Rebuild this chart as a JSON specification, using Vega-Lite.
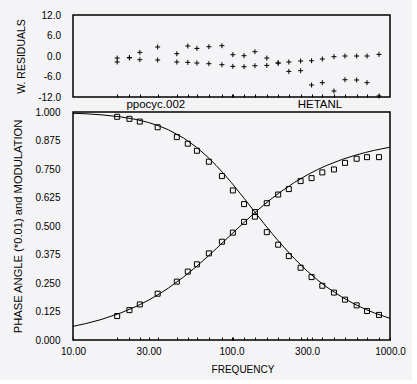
{
  "$schema": "https://vega.github.io/schema/vega-lite/v6.json",
  "background": "#f4f4f6",
  "padding": {"left": 12, "top": 9, "right": 5, "bottom": 5},
  "spacing": 15,
  "bounds": "flush",
  "config": {
    "view": {"stroke": "black", "strokeWidth": 1.5},
    "font": "Liberation Sans",
    "axis": {
      "labelFont": "Liberation Sans", "labelFontSize": 10, "labelColor": "black",
      "titleFont": "Liberation Sans", "titleColor": "black", "titleFontWeight": "normal",
      "tickColor": "black", "domain": false, "grid": false, "labelFlush": false, "labelOverlap": false
    }
  },
  "datasets": {
    "res": [
      {"freq": 19.0, "series": "phase", "res": -0.59}, {"freq": 19.0, "series": "mod", "res": -1.76},
      {"freq": 22.7, "series": "phase", "res": -0.5}, {"freq": 22.7, "series": "mod", "res": -0.5},
      {"freq": 26.4, "series": "phase", "res": 1.05}, {"freq": 26.4, "series": "mod", "res": -1.08},
      {"freq": 34.2, "series": "phase", "res": 2.63}, {"freq": 34.2, "series": "mod", "res": -1.17},
      {"freq": 45.2, "series": "phase", "res": 0.67}, {"freq": 45.2, "series": "mod", "res": -1.76},
      {"freq": 53.0, "series": "phase", "res": 2.93}, {"freq": 53.0, "series": "mod", "res": -1.87},
      {"freq": 60.5, "series": "phase", "res": 2.22}, {"freq": 60.5, "series": "mod", "res": -2.05},
      {"freq": 72.0, "series": "phase", "res": 2.72}, {"freq": 72.0, "series": "mod", "res": -2.25},
      {"freq": 87.0, "series": "phase", "res": 3.01}, {"freq": 87.0, "series": "mod", "res": -2.55},
      {"freq": 102, "series": "phase", "res": 0.38}, {"freq": 102, "series": "mod", "res": -3.04},
      {"freq": 120, "series": "phase", "res": 0.09}, {"freq": 120, "series": "mod", "res": -3.13},
      {"freq": 140.5, "series": "phase", "res": 1.26}, {"freq": 140.5, "series": "mod", "res": -2.84},
      {"freq": 167, "series": "phase", "res": -0.59}, {"freq": 167, "series": "mod", "res": -2.75},
      {"freq": 197, "series": "phase", "res": -2.05}, {"freq": 197, "series": "mod", "res": -2.05},
      {"freq": 230, "series": "phase", "res": -1.76}, {"freq": 230, "series": "mod", "res": -4.51},
      {"freq": 273, "series": "phase", "res": -1.46}, {"freq": 273, "series": "mod", "res": -4.3},
      {"freq": 320, "series": "phase", "res": -1.38}, {"freq": 320, "series": "mod", "res": -8.49},
      {"freq": 374, "series": "phase", "res": -0.88}, {"freq": 374, "series": "mod", "res": -7.81},
      {"freq": 443, "series": "phase", "res": -0.2}, {"freq": 443, "series": "mod", "res": -10.24},
      {"freq": 520, "series": "phase", "res": 0.0}, {"freq": 520, "series": "mod", "res": -6.94},
      {"freq": 616, "series": "phase", "res": 0.0}, {"freq": 616, "series": "mod", "res": -7.02},
      {"freq": 716, "series": "phase", "res": 0.0}, {"freq": 716, "series": "mod", "res": -7.81},
      {"freq": 852, "series": "phase", "res": 0.47}, {"freq": 852, "series": "mod", "res": -11.7}
    ],
    "pts": [
      {"freq": 19.0, "mod": 0.979, "phase": 0.105},
      {"freq": 22.7, "mod": 0.970, "phase": 0.131},
      {"freq": 26.4, "mod": 0.958, "phase": 0.156},
      {"freq": 34.2, "mod": 0.933, "phase": 0.203},
      {"freq": 45.2, "mod": 0.890, "phase": 0.256},
      {"freq": 53.0, "mod": 0.861, "phase": 0.300},
      {"freq": 60.5, "mod": 0.830, "phase": 0.332},
      {"freq": 72.0, "mod": 0.782, "phase": 0.380},
      {"freq": 87.0, "mod": 0.719, "phase": 0.431},
      {"freq": 102, "mod": 0.656, "phase": 0.471},
      {"freq": 120, "mod": 0.596, "phase": 0.518},
      {"freq": 140.5, "mod": 0.541, "phase": 0.561},
      {"freq": 167, "mod": 0.473, "phase": 0.600},
      {"freq": 197, "mod": 0.418, "phase": 0.638},
      {"freq": 230, "mod": 0.368, "phase": 0.662},
      {"freq": 273, "mod": 0.317, "phase": 0.697},
      {"freq": 320, "mod": 0.276, "phase": 0.710},
      {"freq": 374, "mod": 0.238, "phase": 0.735},
      {"freq": 443, "mod": 0.208, "phase": 0.748},
      {"freq": 520, "mod": 0.177, "phase": 0.777},
      {"freq": 616, "mod": 0.152, "phase": 0.795},
      {"freq": 716, "mod": 0.127, "phase": 0.802},
      {"freq": 852, "mod": 0.110, "phase": 0.802}
    ],
    "fit": [
      {"freq": 10, "mod": 0.9945, "phase": 0.0599},
      {"freq": 12, "mod": 0.9922, "phase": 0.0718},
      {"freq": 15, "mod": 0.9878, "phase": 0.0895},
      {"freq": 20, "mod": 0.9786, "phase": 0.1186},
      {"freq": 25, "mod": 0.9673, "phase": 0.1471},
      {"freq": 30, "mod": 0.9538, "phase": 0.1748},
      {"freq": 35, "mod": 0.9386, "phase": 0.2018},
      {"freq": 40, "mod": 0.9220, "phase": 0.2278},
      {"freq": 50, "mod": 0.8854, "phase": 0.2770},
      {"freq": 60, "mod": 0.8461, "phase": 0.3221},
      {"freq": 70, "mod": 0.8057, "phase": 0.3632},
      {"freq": 80, "mod": 0.7657, "phase": 0.4003},
      {"freq": 90, "mod": 0.7268, "phase": 0.4338},
      {"freq": 100, "mod": 0.6897, "phase": 0.4640},
      {"freq": 120, "mod": 0.6217, "phase": 0.5156},
      {"freq": 140, "mod": 0.5625, "phase": 0.5578},
      {"freq": 160, "mod": 0.5115, "phase": 0.5924},
      {"freq": 180, "mod": 0.4677, "phase": 0.6212},
      {"freq": 200, "mod": 0.4300, "phase": 0.6454},
      {"freq": 250, "mod": 0.3560, "phase": 0.6915},
      {"freq": 300, "mod": 0.3026, "phase": 0.7239},
      {"freq": 350, "mod": 0.2626, "phase": 0.7478},
      {"freq": 400, "mod": 0.2316, "phase": 0.7661},
      {"freq": 500, "mod": 0.1871, "phase": 0.7922},
      {"freq": 600, "mod": 0.1568, "phase": 0.8098},
      {"freq": 700, "mod": 0.1348, "phase": 0.8225},
      {"freq": 800, "mod": 0.1182, "phase": 0.8321},
      {"freq": 1000, "mod": 0.0948, "phase": 0.8456}
    ],
    "labels": [
      {"freq": 33.3, "v": 1.0, "label": "ppocyc.002"},
      {"freq": 361.5, "v": 1.0, "label": "HETANL"}
    ]
  },
  "vconcat": [
    {
      "width": 317,
      "height": 82,
      "data": {"name": "res"},
      "mark": {"type": "point", "shape": "M-1,0H1M0,-1V1", "size": 25, "filled": false, "stroke": "black", "strokeWidth": 1, "opacity": 1},
      "encoding": {
        "x": {"field": "freq", "type": "quantitative",
          "scale": {"type": "log", "domain": [10, 1000], "nice": false},
          "axis": {"title": null, "labels": false, "tickSize": -3,
            "values": [19.0, 22.7, 26.4, 34.2, 45.2, 53.0, 60.5, 72.0, 87.0, 100, 102, 120, 140.5, 167, 197, 230, 273, 320, 374, 443, 520, 616, 716, 852]}},
        "y": {"field": "res", "type": "quantitative",
          "scale": {"domain": [-12, 12], "nice": false, "zero": false},
          "axis": {"title": "W. RESIDUALS", "titleFontSize": 10.5, "titlePadding": 11,
            "values": [-12, -6, 0, 6, 12], "format": ".1f",
            "labelExpr": "replace(datum.label, '\u2212', '-')",
            "ticks": false, "labelPadding": 12.5}}
      }
    },
    {
      "width": 317,
      "height": 228,
      "layer": [
        {
          "data": {"name": "fit"},
          "mark": {"type": "line", "color": "black", "strokeWidth": 1},
          "encoding": {
            "x": {"field": "freq", "type": "quantitative"},
            "y": {"field": "mod", "type": "quantitative"}
          }
        },
        {
          "data": {"name": "fit"},
          "mark": {"type": "line", "color": "black", "strokeWidth": 1},
          "encoding": {
            "x": {"field": "freq", "type": "quantitative"},
            "y": {"field": "phase", "type": "quantitative"}
          }
        },
        {
          "data": {"name": "pts"},
          "mark": {"type": "point", "shape": "square", "size": 25, "filled": false, "stroke": "black", "strokeWidth": 1, "opacity": 1},
          "encoding": {
            "x": {"field": "freq", "type": "quantitative"},
            "y": {"field": "mod", "type": "quantitative"}
          }
        },
        {
          "data": {"name": "pts"},
          "mark": {"type": "point", "shape": "square", "size": 25, "filled": false, "stroke": "black", "strokeWidth": 1, "opacity": 1},
          "encoding": {
            "x": {"field": "freq", "type": "quantitative"},
            "y": {"field": "phase", "type": "quantitative"}
          }
        },
        {
          "data": {"name": "labels"},
          "mark": {"type": "text", "font": "Liberation Sans", "fontSize": 11.5, "color": "black", "baseline": "alphabetic", "dy": -4},
          "encoding": {
            "x": {"field": "freq", "type": "quantitative"},
            "y": {"field": "v", "type": "quantitative"},
            "text": {"field": "label"}
          }
        }
      ],
      "encoding": {
        "x": {"field": "freq", "type": "quantitative",
          "scale": {"type": "log", "domain": [10, 1000], "nice": false},
          "axis": {"title": "FREQUENCY", "titleFontSize": 10, "titlePadding": 8, "labelPadding": 9, "tickSize": -3, "titleX": 169.5,
            "values": [10, 19.0, 22.7, 26.4, 30, 34.2, 45.2, 53.0, 60.5, 72.0, 87.0, 100, 102, 120, 140.5, 167, 197, 230, 273, 300, 320, 374, 443, 520, 616, 716, 852, 1000],
            "labelExpr": "datum.value == 10 ? '10.00' : datum.value == 30 ? '30.00' : datum.value == 100 ? '100.0' : datum.value == 300 ? '300.0' : datum.value == 1000 ? '1000.0' : ''"}},
        "y": {"type": "quantitative",
          "scale": {"domain": [0, 1], "nice": false, "zero": false},
          "axis": {"title": "PHASE ANGLE (*0.01) and MODULATION", "titleFontSize": 11.2, "titlePadding": 11,
            "values": [0, 0.125, 0.25, 0.375, 0.5, 0.625, 0.75, 0.875, 1.0], "format": ".3f",
            "ticks": false, "labelPadding": 13}}
      }
    }
  ]
}
